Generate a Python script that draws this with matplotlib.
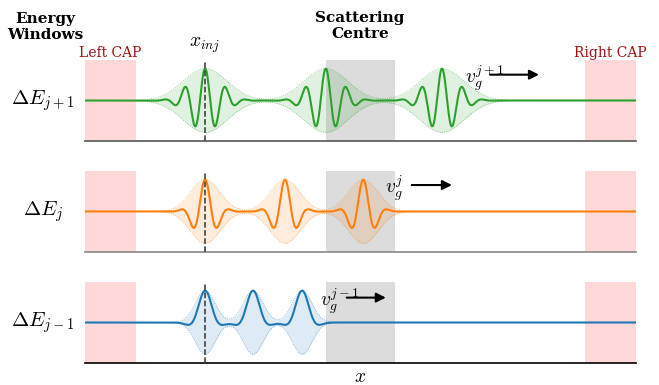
import numpy as np
import matplotlib
matplotlib.use("Agg")
import matplotlib.pyplot as plt

plt.rcParams['font.family'] = ['DejaVu Serif']
plt.rcParams['mathtext.fontset'] = 'cm'

# ---- data ----
band_labels = [r'$\Delta E_{j+1}$', r'$\Delta E_j$', r'$\Delta E_{j-1}$']
velocity_labels = [r'$v_g^{j+1}$', r'$v_g^{j}$', r'$v_g^{j-1}$']
band_colors = ['#2ca02c', '#ff7f0e', '#1f77b4']
packet_centres = [[0.218, 0.437, 0.648],
                  [0.218, 0.363, 0.505],
                  [0.218, 0.305, 0.394]]
wavelengths = [0.0372, 0.047, 0.094]
wave_widths = [0.028, 0.019, 0.016]
fill_widths = [0.040, 0.027, 0.018]
x_inj = 0.218
left_cap = (0.0, 0.093)
right_cap = (0.907, 1.0)
scatter_region = (0.437, 0.563)
# arrow (start, end, y) and text (x) per band, data coords
arrow_x0 = [0.735, 0.593, 0.475]
arrow_x1 = [0.824, 0.666, 0.546]
arrow_y = [0.81, 0.83, 0.78]
vtext_x = [0.69, 0.545, 0.427]
spine_colors = ['#555555', '#888888', 'black']

fig = plt.figure(figsize=(6.59, 3.85), dpi=100)
x = np.linspace(0, 1, 4000)

left, width = 85 / 659, 551 / 659
tops_px = [60, 171, 282]
h_px = 81
for i in range(3):
    bottom = 1 - (tops_px[i] + h_px) / 385
    ax = fig.add_axes([left, bottom, width, h_px / 385])
    c = band_colors[i]
    env = np.zeros_like(x)
    wave = np.zeros_like(x)
    for xc in packet_centres[i]:
        env += np.exp(-(x - xc) ** 2 / (2 * fill_widths[i] ** 2))
        e = np.exp(-(x - xc) ** 2 / (2 * wave_widths[i] ** 2))
        wave += e * np.cos(2 * np.pi * (x - xc) / wavelengths[i])
    ax.axvspan(*left_cap, color='#ffd9d9', lw=0, zorder=0)
    ax.axvspan(*right_cap, color='#ffd9d9', lw=0, zorder=0)
    ax.axvspan(*scatter_region, color='#dcdcdc', lw=0, zorder=0)
    ax.fill_between(x, -env, env, color=c, alpha=0.14, lw=0, zorder=1)
    ax.plot(x, env, color=c, lw=0.6, ls=':', alpha=0.6, zorder=1)
    ax.plot(x, -env, color=c, lw=0.6, ls=':', alpha=0.6, zorder=1)
    ax.plot(x, wave, color=c, lw=1.5, zorder=2)
    ax.axvline(x_inj, color='#333333', ls='--', lw=1.1, zorder=3)
    ax.set_xlim(0, 1)
    ax.set_ylim(-1.27, 1.27)
    ax.set_xticks([])
    ax.set_yticks([])
    for s in ['top', 'right', 'left']:
        ax.spines[s].set_visible(False)
    ax.spines['bottom'].set_color(spine_colors[i])
    ax.spines['bottom'].set_linewidth(1.2)
    ax.text(-0.076, 0.5, band_labels[i], transform=ax.transAxes,
            ha='center', va='center', fontsize=15)
    ax.annotate('', xy=(arrow_x1[i], arrow_y[i]), xytext=(arrow_x0[i], arrow_y[i]),
                arrowprops=dict(arrowstyle='-|>', color='black', lw=1.5,
                                mutation_scale=14, shrinkA=0, shrinkB=0))
    ax.text(vtext_x[i], arrow_y[i] - 0.1, velocity_labels[i], ha='left', va='center',
            fontsize=14)
    if i == 0:
        ax.text(np.mean(left_cap), 1.043, 'Left CAP', transform=ax.get_xaxis_transform(),
                ha='center', va='baseline', color='#a01010', fontsize=10)
        ax.text(np.mean(right_cap), 1.043, 'Right CAP', transform=ax.get_xaxis_transform(),
                ha='center', va='baseline', color='#a01010', fontsize=10)
        ax.text(x_inj, 1.16, r'$x_{inj}$', transform=ax.get_xaxis_transform(),
                ha='center', va='baseline', fontsize=14)
    if i == 2:
        ax.text(0.5, -0.17, r'$x$', transform=ax.transAxes, ha='center', va='center',
                fontsize=14)

fig.text(45 / 659, 1 - 27 / 385, 'Energy\nWindows', ha='center', va='center',
         fontweight='bold', fontsize=11)
fig.text(360 / 659, 1 - 26 / 385, 'Scattering\nCentre', ha='center', va='center',
         fontweight='bold', fontsize=11)

fig.savefig('out.png', dpi=100)
